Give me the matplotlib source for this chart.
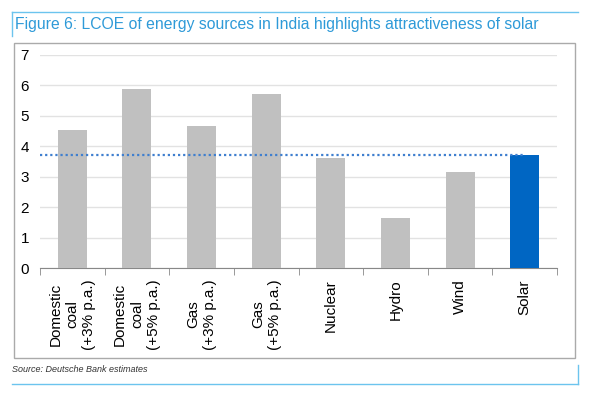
import matplotlib
matplotlib.use('Agg')
import matplotlib.pyplot as plt
from matplotlib.patches import Rectangle
from matplotlib.lines import Line2D

plt.rcParams['font.family'] = ['Liberation Sans', 'DejaVu Sans']

categories = ['Domestic\ncoal\n(+3% p.a.)', 'Domestic\ncoal\n(+5% p.a.)', 'Gas\n(+3% p.a.)',
              'Gas\n(+5% p.a.)', 'Nuclear', 'Hydro', 'Wind', 'Solar']
lcoe = [4.54, 5.89, 4.67, 5.72, 3.6, 1.65, 3.16, 3.72]
solar_level = 3.72

title_blue = '#2e9ad8'
line_blue = '#6cc4ee'

fig = plt.figure(figsize=(5.9, 3.94), dpi=100)
ax = fig.add_axes([40 / 590, 1 - 268 / 394, 517 / 590, 213 / 394])

colors = ['#c0c0c0'] * (len(lcoe) - 1) + ['#0066c3']
x = list(range(len(lcoe)))
ax.bar(x, lcoe, width=0.45, color=colors, zorder=3)
ax.plot([-0.5, 7.0], [solar_level, solar_level], color='#3f7fcf', lw=1.6,
        linestyle=(0, (1, 1.3)), zorder=4)

ax.set_xlim(-0.5, 7.5)
ax.set_ylim(0, 7)
ax.set_yticks(range(8))
ax.tick_params(axis='y', length=0, labelsize=11, pad=8)
ax.yaxis.grid(True, color='#e2e2e2', lw=1, zorder=0)
ax.set_xticks(x)
ax.set_xticklabels(categories, rotation=90, fontsize=11, linespacing=1.25,
                   ha='center', va='top', multialignment='center')
ax.tick_params(axis='x', length=0, pad=8)
ax.set_xticks([i + 0.5 for i in range(-1, 8)], minor=True)
ax.tick_params(axis='x', which='minor', length=5, color='#888888')
for s in ['top', 'right', 'left']:
    ax.spines[s].set_visible(False)
ax.spines['bottom'].set_color('#888888')

# chart box and report frame
fig.patches.append(Rectangle((14 / 590, 1 - 358 / 394), 561 / 590, 315 / 394,
                             transform=fig.transFigure, fill=False, ec='#aaaaaa', lw=1))
fig.lines.append(Line2D([12 / 590, 578 / 590], [1 - 12 / 394, 1 - 12 / 394],
                        transform=fig.transFigure, color=line_blue, lw=1))
fig.lines.append(Line2D([12 / 590, 12 / 590], [1 - 12 / 394, 1 - 36 / 394],
                        transform=fig.transFigure, color=line_blue, lw=1))
fig.lines.append(Line2D([12 / 590, 578 / 590], [1 - 384 / 394, 1 - 384 / 394],
                        transform=fig.transFigure, color=line_blue, lw=1))
fig.lines.append(Line2D([578 / 590, 578 / 590], [1 - 365 / 394, 1 - 384 / 394],
                        transform=fig.transFigure, color=line_blue, lw=1))

fig.text(15 / 590, 1 - 25 / 394, 'Figure 6: LCOE of energy sources in India highlights attractiveness of solar',
         color=title_blue, fontsize=11.3, va='center', ha='left')
fig.text(12 / 590, 1 - 370 / 394, 'Source: Deutsche Bank estimates', fontsize=6.5,
         style='italic', va='center', ha='left', color='#333333')

fig.savefig('out.png', dpi=100)
